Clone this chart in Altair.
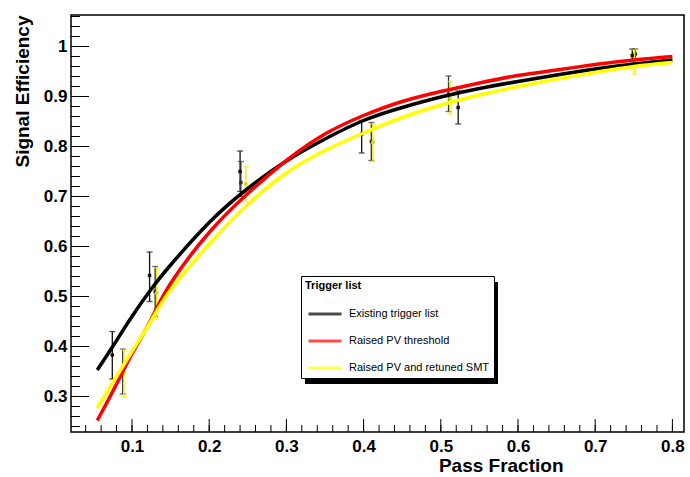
import altair as alt
import pandas as pd

FONT = "Liberation Sans"

series_names = ["Existing trigger list", "Raised PV threshold", "Raised PV and retuned SMT"]
line_colors = ["#000000", "#ff0000", "#ffff00"]

# fitted curves
curve_x = [0.055, 0.075, 0.1, 0.125, 0.15, 0.2, 0.25, 0.3, 0.35, 0.4,
           0.45, 0.5, 0.55, 0.6, 0.65, 0.7, 0.75, 0.8]
curve_existing = [0.353, 0.400, 0.460, 0.515, 0.563, 0.648, 0.716, 0.771, 0.815, 0.852,
                  0.878, 0.899, 0.916, 0.930, 0.943, 0.955, 0.965, 0.973]
curve_raised_pv = [0.252, 0.310, 0.385, 0.455, 0.526, 0.628, 0.706, 0.772, 0.825, 0.862,
                   0.890, 0.910, 0.927, 0.942, 0.953, 0.964, 0.973, 0.980]
curve_retuned = [0.277, 0.328, 0.390, 0.452, 0.513, 0.605, 0.684, 0.747, 0.792, 0.827,
                 0.858, 0.883, 0.903, 0.920, 0.935, 0.948, 0.960, 0.968]

# measured points (value, lower, upper)
pts_existing_x = [0.0745, 0.1228, 0.240, 0.3975, 0.5225, 0.748]
pts_existing_y = [0.383, 0.542, 0.750, 0.825, 0.878, 0.982]
pts_existing_lo = [0.335, 0.490, 0.710, 0.787, 0.845, 0.970]
pts_existing_hi = [0.430, 0.589, 0.791, 0.852, 0.911, 0.995]

pts_raised_x = [0.0880, 0.1300, 0.2410, 0.4100, 0.5100, 0.7520]
pts_raised_y = [0.350, 0.510, 0.728, 0.810, 0.905, 0.985]
pts_raised_lo = [0.305, 0.460, 0.700, 0.772, 0.870, 0.975]
pts_raised_hi = [0.395, 0.560, 0.770, 0.848, 0.941, 0.995]

pts_retuned_x = [0.0895, 0.1320, 0.2475, 0.4120, 0.5120, 0.7510]
pts_retuned_y = [0.347, 0.507, 0.725, 0.808, 0.895, 0.970]
pts_retuned_lo = [0.300, 0.457, 0.690, 0.770, 0.865, 0.945]
pts_retuned_hi = [0.393, 0.557, 0.760, 0.845, 0.930, 0.993]

x_major = [0.1, 0.2, 0.3, 0.4, 0.5, 0.6, 0.7, 0.8]
y_major = [0.3, 0.4, 0.5, 0.6, 0.7, 0.8, 0.9, 1.0]
x_minor = [round(0.04 + 0.02 * i, 2) for i in range(39)]
y_minor = [round(0.24 + 0.02 * i, 2) for i in range(42)]

X_DOMAIN = [0.021, 0.815]
Y_DOMAIN = [0.229, 1.063]

W, H = 613, 417

# ---------- tables ----------
curves = pd.concat([
    pd.DataFrame({"x": curve_x, "y": curve_existing, "series": series_names[0]}),
    pd.DataFrame({"x": curve_x, "y": curve_raised_pv, "series": series_names[1]}),
    pd.DataFrame({"x": curve_x, "y": curve_retuned, "series": series_names[2]}),
])

dark_pts = pd.concat([
    pd.DataFrame({"x": pts_existing_x, "y": pts_existing_y, "lo": pts_existing_lo, "hi": pts_existing_hi, "c": "#111111"}),
    pd.DataFrame({"x": pts_raised_x, "y": pts_raised_y, "lo": pts_raised_lo, "hi": pts_raised_hi, "c": "#333333"}),
])
yellow_pts = pd.DataFrame({"x": pts_retuned_x, "y": pts_retuned_y, "lo": pts_retuned_lo, "hi": pts_retuned_hi})

xs = alt.Scale(domain=X_DOMAIN, nice=False, zero=False)
ys = alt.Scale(domain=Y_DOMAIN, nice=False, zero=False)

x_axis = alt.Axis(values=x_major, format="~g", ticks=False, tickSize=0, domain=False, grid=False,
                  labelFont=FONT, labelFontWeight="bold", labelFontSize=17, labelColor="black",
                  labelPadding=6, title="Pass Fraction", titleFont=FONT, titleFontWeight="bold",
                  titleFontSize=19, titleColor="black", titleX=492, titleY=39.5,
                  titleAlign="right", titleBaseline="alphabetic")
y_axis = alt.Axis(values=y_major, format="~g", ticks=False, tickSize=0, domain=False, grid=False,
                  labelFont=FONT, labelFontWeight="bold", labelFontSize=17, labelColor="black",
                  labelPadding=4, title="Signal Efficiency", titleFont=FONT, titleFontWeight="bold",
                  titleFontSize=19, titleColor="black", titleX=-43, titleY=0, titleAngle=-90,
                  titleAlign="right", titleBaseline="alphabetic")


def X(field):
    return alt.X(f"{field}:Q", scale=xs, axis=x_axis)


def Y(field):
    return alt.Y(f"{field}:Q", scale=ys, axis=y_axis)


# ---------- tick marks (inside the frame, ROOT style) ----------
ytick_major = alt.Chart(pd.DataFrame({"y": y_major})).mark_rule(color="black", strokeWidth=1).encode(
    y=Y("y"), x=alt.value(0), x2=alt.value(18))
ytick_minor = alt.Chart(pd.DataFrame({"y": y_minor})).mark_rule(color="black", strokeWidth=1).encode(
    y=Y("y"), x=alt.value(0), x2=alt.value(9))
xtick_major = alt.Chart(pd.DataFrame({"x": x_major})).mark_rule(color="black", strokeWidth=1).encode(
    x=X("x"), y=alt.value(H), y2=alt.value(H - 13))
xtick_minor = alt.Chart(pd.DataFrame({"x": x_minor})).mark_rule(color="black", strokeWidth=1).encode(
    x=X("x"), y=alt.value(H), y2=alt.value(H - 7))

# ---------- data points ----------
dark_bars = alt.Chart(dark_pts).mark_rule(strokeWidth=1.3).encode(
    x=X("x"), y=Y("lo"), y2="hi", color=alt.Color("c:N", scale=None))
dark_cap_lo = alt.Chart(dark_pts).mark_tick(orient="horizontal", size=6, thickness=1.3).encode(
    x=X("x"), y=Y("lo"), color=alt.Color("c:N", scale=None))
dark_cap_hi = alt.Chart(dark_pts).mark_tick(orient="horizontal", size=6, thickness=1.3).encode(
    x=X("x"), y=Y("hi"), color=alt.Color("c:N", scale=None))
dark_mark = alt.Chart(dark_pts).mark_square(size=12, opacity=1).encode(
    x=X("x"), y=Y("y"), color=alt.Color("c:N", scale=None))

ycol = "#eeee00"
yel_bars = alt.Chart(yellow_pts).mark_rule(strokeWidth=1.3, color=ycol).encode(
    x=X("x"), y=Y("lo"), y2="hi")
yel_cap_lo = alt.Chart(yellow_pts).mark_tick(orient="horizontal", size=6, thickness=1.3, color=ycol).encode(
    x=X("x"), y=Y("lo"))
yel_cap_hi = alt.Chart(yellow_pts).mark_tick(orient="horizontal", size=6, thickness=1.3, color=ycol).encode(
    x=X("x"), y=Y("hi"))
yel_mark = alt.Chart(yellow_pts).mark_square(size=12, opacity=1, color="#d8d800").encode(
    x=X("x"), y=Y("y"))

# ---------- curves ----------
lines = alt.Chart(curves).mark_line(strokeWidth=3.5, interpolate="natural").encode(
    x=X("x"), y=Y("y"),
    color=alt.Color("series:N", sort=series_names,
                    scale=alt.Scale(domain=series_names, range=line_colors),
                    legend=alt.Legend(orient="none", legendX=230, legendY=261, title="Trigger list",
                                      titleFont=FONT, titleFontSize=11, titleFontWeight="bold",
                                      titleColor="black", titlePadding=13,
                                      labelFont=FONT, labelFontSize=11, labelColor="black",
                                      symbolType="M-2,0H2", symbolSize=272, symbolStrokeWidth=3,
                                      symbolOffset=10, labelOffset=14, rowPadding=11, padding=4,
                                      strokeColor="black", fillColor="white", cornerRadius=0,
                                      labelLimit=300)),
    detail="series:N",
)

# legend drop shadow
shadow = alt.Chart(pd.DataFrame({"k": [0]})).mark_rect(color="black").encode(
    x=alt.value(234), x2=alt.value(427), y=alt.value(267), y2=alt.value(369))

chart = alt.layer(
    ytick_minor, ytick_major, xtick_minor, xtick_major,
    dark_bars, dark_cap_lo, dark_cap_hi, dark_mark,
    yel_bars, yel_cap_lo, yel_cap_hi, yel_mark,
    lines, shadow,
).properties(
    width=W, height=H,
    autosize=alt.AutoSizeParams(type="none"),
    padding={"left": 71, "top": 15, "right": 6, "bottom": 45},
    background="white",
).configure_view(
    stroke="black", strokeWidth=1.5
)

chart.save("out.html", embed_options={"renderer": "svg", "actions": False})
